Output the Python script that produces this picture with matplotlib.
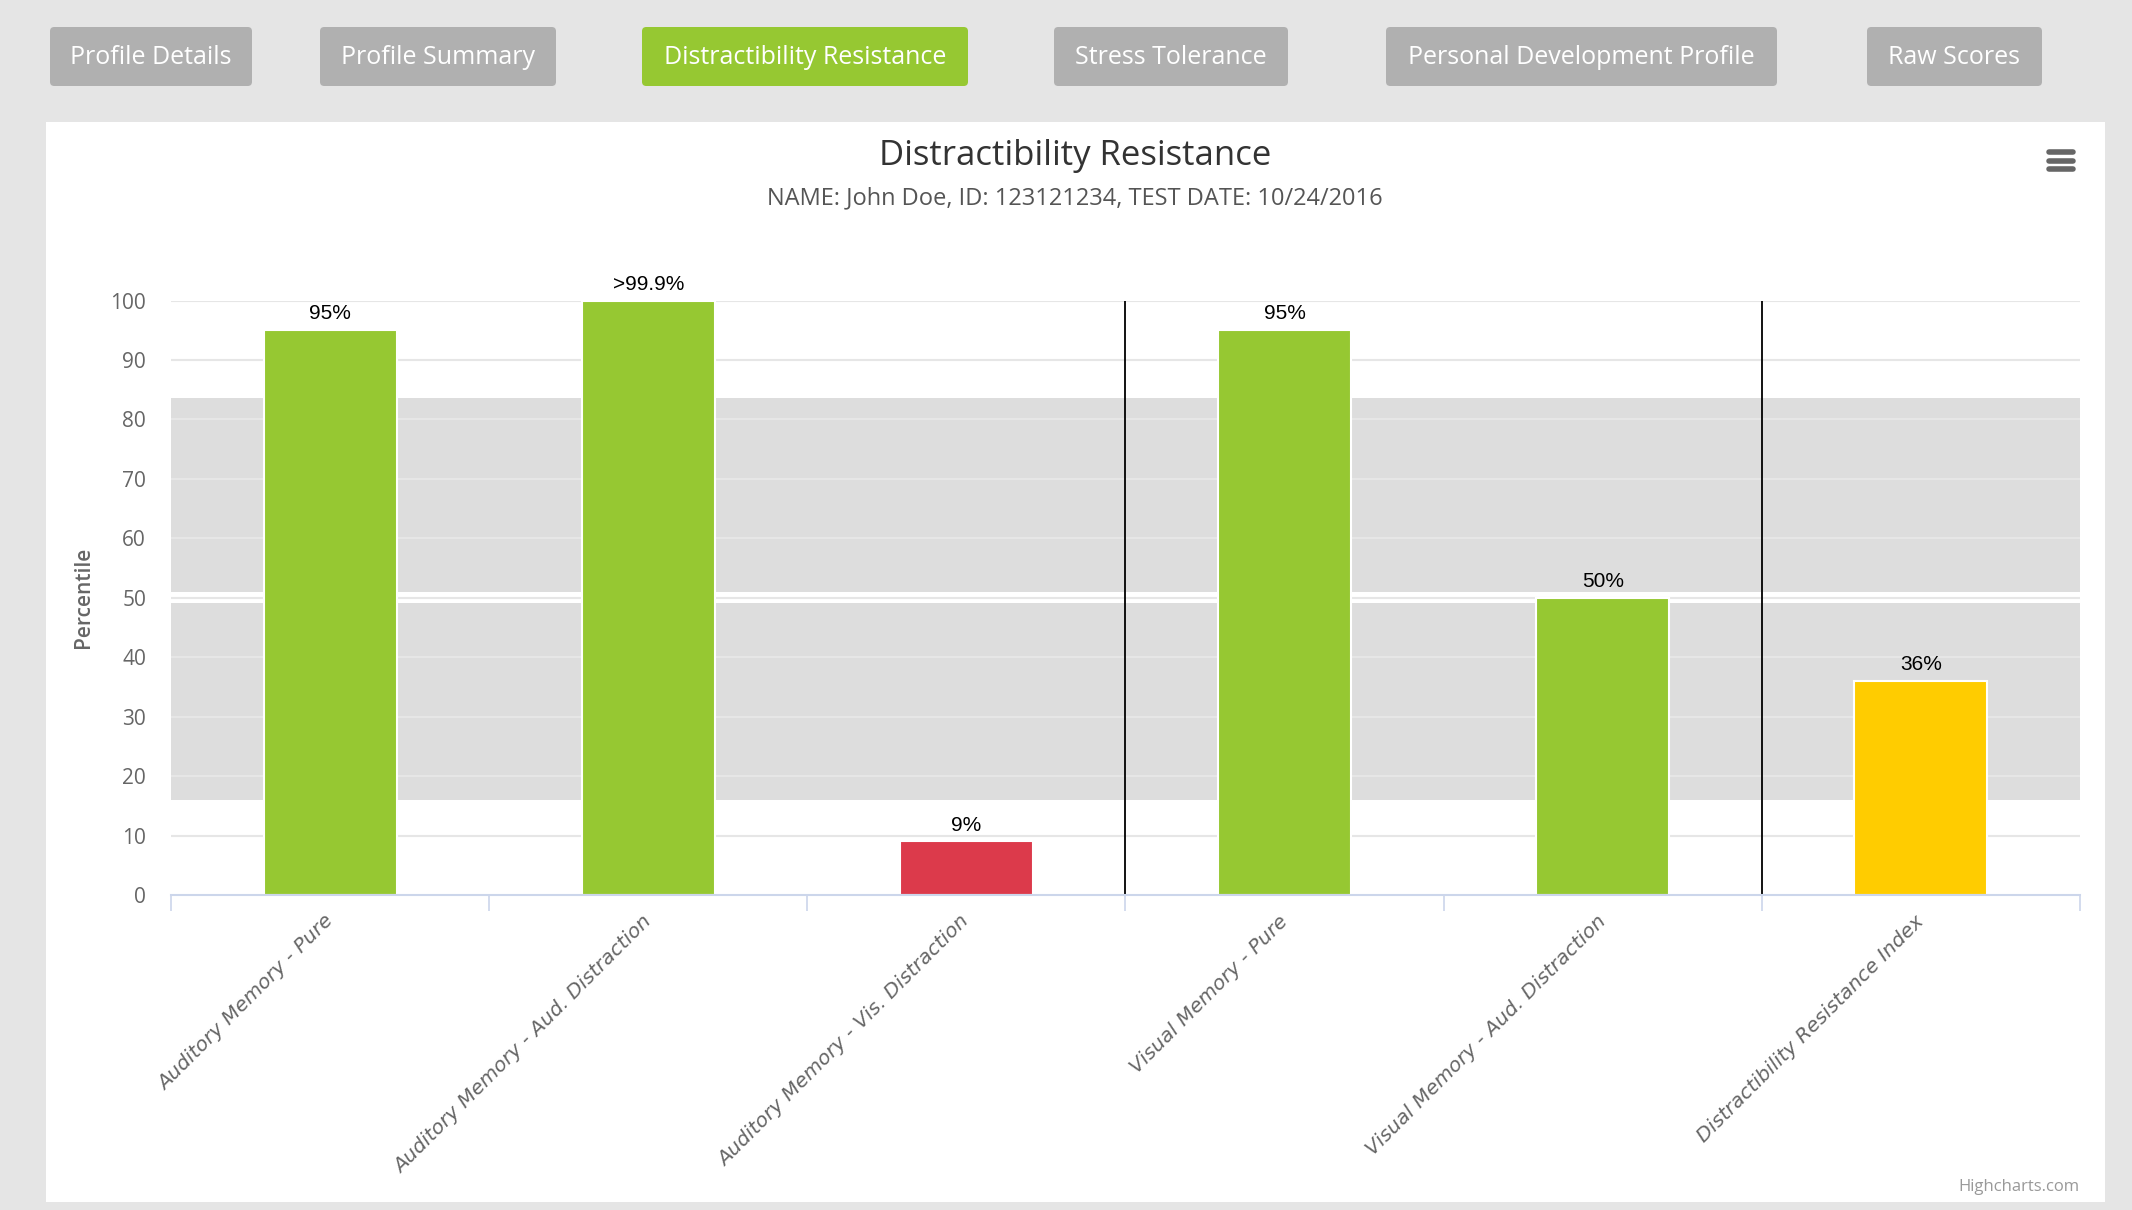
import numpy as np
import matplotlib

matplotlib.use('Agg')

from matplotlib import pyplot as plt
from matplotlib.patches import Rectangle, FancyBboxPatch
from matplotlib.lines import Line2D

# data
categories = ['Auditory Memory - Pure',
              'Auditory Memory - Aud. Distraction',
              'Auditory Memory - Vis. Distraction',
              'Visual Memory - Pure',
              'Visual Memory - Aud. Distraction',
              'Distractibility Resistance Index']
values = [95, 99.9, 9, 95, 50, 36]
value_labels = ['95%', '>99.9%', '9%', '95%', '50%', '36%']
bar_colors = ['#96c832', '#96c832', '#dc3a4b', '#96c832', '#96c832', '#ffcc00']
group_sizes = [3, 2, 1]
band_ranges = [(16, 49.1), (50.9, 83.6)]
y_ticks = list(range(0, 101, 10))
tabs = ['Profile Details', 'Profile Summary', 'Distractibility Resistance',
        'Stress Tolerance', 'Personal Development Profile', 'Raw Scores']
active_tab = 'Distractibility Resistance'
title = 'Distractibility Resistance'
subtitle = 'NAME: John Doe, ID: 123121234, TEST DATE: 10/24/2016'

W, H = 2132, 1210
# tab button extents in pixels (left, right)
tab_px = [(50, 252), (320, 556), (642, 968), (1054, 1288), (1386, 1777), (1867, 2042)]


def fx(px):
    return px / W


def fy(py):
    return 1 - py / H


fig = plt.figure(figsize=(W / 100, H / 100), dpi=100, facecolor='#e5e5e5')

# white chart panel
fig.add_artist(Rectangle((fx(46), fy(1202)), fx(2105) - fx(46), fy(122) - fy(1202),
                         transform=fig.transFigure, facecolor='white',
                         edgecolor='none', zorder=-2))

# tab buttons
for label, (l, r) in zip(tabs, tab_px):
    c = '#96c832' if label == active_tab else '#b0b0b0'
    fig.add_artist(FancyBboxPatch((fx(l), fy(86)), fx(r) - fx(l), fy(27) - fy(86),
                                  boxstyle='round,pad=0,rounding_size=0.002',
                                  mutation_aspect=W / H,
                                  transform=fig.transFigure, facecolor=c,
                                  edgecolor='none', zorder=1))
    fig.text(fx((l + r) / 2), fy(58), label, ha='center', va='center',
             color='white', fontsize=18, family='Open Sans', weight='medium')

fig.text(fx(1075), fy(156), title, ha='center', va='center', color='#333333',
         fontsize=25, family='Open Sans')
fig.text(fx(1075), fy(198), subtitle, ha='center', va='center', color='#555555',
         fontsize=17, family='Open Sans')

# hamburger menu
for yy in (152, 160.5, 169):
    fig.add_artist(Line2D([fx(2049), fx(2073)], [fy(yy), fy(yy)],
                          transform=fig.transFigure, color='#666666', lw=4,
                          solid_capstyle='round'))

fig.text(fx(2079), fy(1187), 'Highcharts.com', ha='right', va='center',
         color='#999999', fontsize=12, family='Open Sans')

# plot area
ax = fig.add_axes([fx(171), fy(895), fx(2080) - fx(171), fy(300.5) - fy(895)])
ax.set_facecolor('none')
x = np.arange(len(categories))
ax.set_xlim(-0.5, len(categories) - 0.5)
ax.set_ylim(0, 100)

for lo, hi in band_ranges:
    ax.axhspan(lo, hi, color='#dddddd', lw=0, zorder=0)
for t in y_ticks[1:]:
    ax.axhline(t, color='#e6e6e6', lw=1.5, zorder=1)

bars = ax.bar(x, values, width=0.418, color=bar_colors, edgecolor='white',
              linewidth=1.5, zorder=3)
for b, lab in zip(bars, value_labels):
    ax.annotate(lab, (b.get_x() + b.get_width() / 2, b.get_height()),
                xytext=(0, 5), textcoords='offset points', ha='center',
                va='bottom', fontsize=15, family='Liberation Sans',
                color='black', annotation_clip=False, zorder=5)

for sep in np.cumsum(group_sizes)[:-1]:
    ax.axvline(sep - 0.5, color='black', lw=1.3, zorder=4)

for s in ('top', 'right', 'left'):
    ax.spines[s].set_visible(False)
ax.spines['bottom'].set_color('#ccd6eb')
ax.spines['bottom'].set_linewidth(1.5)
ax.spines['bottom'].set_zorder(4)

ax.set_yticks(y_ticks)
ax.set_yticklabels([str(t) for t in y_ticks], family='Open Sans', fontsize=15,
                   color='#666666')
ax.tick_params(axis='y', length=0, pad=18)

ax.set_xticks(x)
ax.set_xticklabels(categories, rotation=45, ha='right', va='center',
                   rotation_mode='anchor', family='DejaVu Sans', style='italic',
                   fontsize=14.5, color='#666666')
ax.set_xticks(np.arange(-0.5, len(categories)), minor=True)
ax.tick_params(axis='x', which='major', length=0, pad=17)
ax.tick_params(axis='x', which='minor', length=11.5, width=1.2, color='#ccd6eb')

ax.set_ylabel('Percentile', family='Open Sans', fontsize=15, weight='semibold',
              color='#666666')
ax.yaxis.set_label_coords(-0.0405, 0.5)

fig.savefig('out.png', dpi=100, facecolor=fig.get_facecolor())
plt.close()
